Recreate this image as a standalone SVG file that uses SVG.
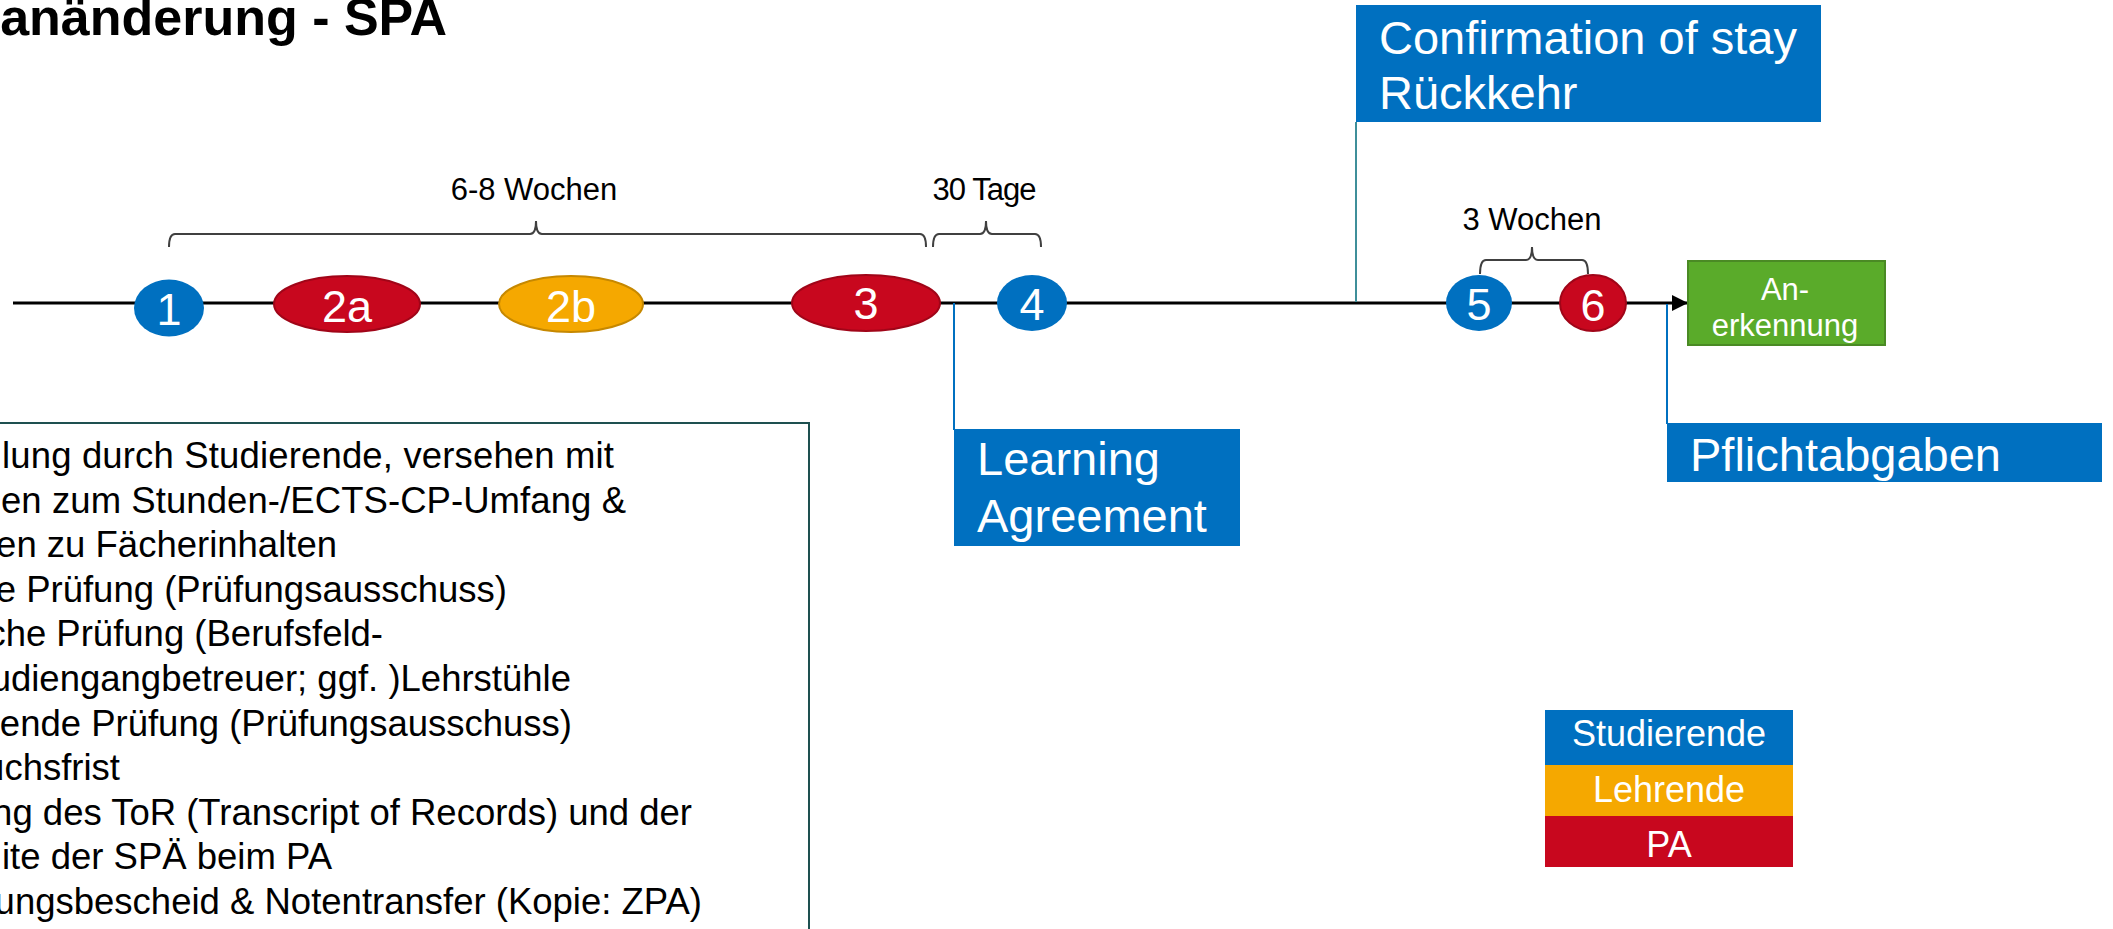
<svg xmlns="http://www.w3.org/2000/svg" width="2113" height="929" viewBox="0 0 2113 929">
<style>
text{font-family:"Liberation Sans",Arial,sans-serif}
.w{fill:#fff}
.num{font-size:45px;fill:#fff;text-anchor:middle}
.lbl{font-size:31px;fill:#000;text-anchor:middle}
.big{font-size:47px;fill:#fff}
.desc{font-size:36.5px;fill:#000;text-anchor:end}
.leg{font-size:36px;fill:#fff;text-anchor:middle}
.brace{fill:none;stroke:#404040;stroke-width:2}
.blue{fill:#0070c0}
.red{fill:#c8071e;stroke:#a00518;stroke-width:2}
.org{fill:#f5a800;stroke:#c68800;stroke-width:2}
.call{stroke:#0070c0;stroke-width:2;fill:none}
</style>
<defs>
<marker id="arr" markerWidth="16" markerHeight="16" refX="16" refY="8" orient="auto" markerUnits="userSpaceOnUse">
<path d="M0,0 L16,8 L0,16 Z" fill="#000"/>
</marker>
</defs>
<rect width="2113" height="929" fill="#fff"/>
<g id="title">
<text x="447" y="35" font-size="52" font-weight="bold" text-anchor="end" fill="#000">anänderung - SPA</text>
</g>
<g id="connectors">
<line x1="13" y1="303" x2="1688" y2="303" stroke="#000" stroke-width="3" marker-end="url(#arr)"/>
<line class="call" x1="954" y1="303" x2="954" y2="430"/>
<line x1="1356" y1="122" x2="1356" y2="302" stroke="#3f8f9a" stroke-width="2"/>
<line class="call" x1="1667" y1="304" x2="1667" y2="424"/>
<path class="brace" d="M169,247 Q169,234 175,234 L530,234 Q536,234 536,221 Q536,234 542,234 L920,234 Q926,234 926,247"/>
<path class="brace" d="M933,247 Q933,234 939,234 L980,234 Q986,234 986,221 Q986,234 992,234 L1035,234 Q1041,234 1041,247"/>
<path class="brace" d="M1480,274 Q1480,260 1486,260 L1526,260 Q1532,260 1532,247 Q1532,260 1538,260 L1582,260 Q1588,260 1588,274"/>
</g>
<g id="labels">
<text class="lbl" x="534" y="200">6-8 Wochen</text>
<text class="lbl" x="984" y="200" letter-spacing="-1">30 Tage</text>
<text class="lbl" x="1532" y="230">3 Wochen</text>
</g>
<g id="n1"><ellipse class="blue" cx="169" cy="308" rx="35" ry="28.5"/><text class="num" x="169" y="325">1</text></g>
<g id="n2a"><ellipse class="red" cx="347" cy="304" rx="73" ry="28"/><text class="num" x="347" y="322">2a</text></g>
<g id="n2b"><ellipse class="org" cx="571" cy="304" rx="72" ry="28"/><text class="num" x="571" y="322">2b</text></g>
<g id="n3"><ellipse class="red" cx="866" cy="303" rx="74" ry="28"/><text class="num" x="866" y="319">3</text></g>
<g id="n4"><ellipse class="blue" cx="1032" cy="303" rx="35" ry="28"/><text class="num" x="1032" y="320">4</text></g>
<g id="n5"><ellipse class="blue" cx="1479" cy="303" rx="33" ry="28"/><text class="num" x="1479" y="320">5</text></g>
<g id="n6"><ellipse class="red" cx="1593" cy="303" rx="33" ry="28"/><text class="num" x="1593" y="321">6</text></g>
<g id="anerkennung">
<rect x="1688" y="261" width="197" height="84" fill="#5aab2a" stroke="#4a8a24" stroke-width="2"/>
<text x="1785" y="300" font-size="31" class="w" text-anchor="middle">An-</text>
<text x="1785" y="336" font-size="31" class="w" text-anchor="middle">erkennung</text>
</g>
<g id="confirmation">
<rect x="1356" y="5" width="465" height="117" class="blue"/>
<text class="big" x="1379" y="54">Confirmation of stay</text>
<text class="big" x="1379" y="109">Rückkehr</text>
</g>
<g id="learning">
<rect x="954" y="429" width="286" height="117" class="blue"/>
<text class="big" x="977" y="475">Learning</text>
<text class="big" x="977" y="532">Agreement</text>
</g>
<g id="pflicht">
<rect x="1667" y="423" width="435" height="59" class="blue"/>
<text class="big" x="1690" y="471">Pflichtabgaben</text>
</g>
<g id="legend">
<rect x="1545" y="710" width="248" height="55" fill="#0070c0"/>
<rect x="1545" y="765" width="248" height="51" fill="#f5a800"/>
<rect x="1545" y="816" width="248" height="51" fill="#c8071e"/>
<text class="leg" x="1669" y="746">Studierende</text>
<text class="leg" x="1669" y="802">Lehrende</text>
<text class="leg" x="1669" y="857">PA</text>
</g>
<g id="description">
<rect x="-10" y="423" width="819" height="520" fill="none" stroke="#1e5050" stroke-width="2"/>
<text class="desc" x="2" y="468" text-anchor="start" style="text-anchor:start" textLength="612">lung durch Studierende, versehen mit</text>
<text class="desc" x="1" y="512.6" style="text-anchor:start" textLength="625">en zum Stunden-/ECTS-CP-Umfang &amp;</text>
<text class="desc" x="337" y="557.2">en zu Fächerinhalten</text>
<text class="desc" x="507" y="601.8">e Prüfung (Prüfungsausschuss)</text>
<text class="desc" x="383" y="646.4">che Prüfung (Berufsfeld-</text>
<text class="desc" x="571" y="691">udiengangbetreuer; ggf. )Lehrstühle</text>
<text class="desc" x="572" y="735.6">ende Prüfung (Prüfungsausschuss)</text>
<text class="desc" x="120" y="780.2">uchsfrist</text>
<text class="desc" x="692" y="824.8">ng des ToR (Transcript of Records) und der</text>
<text class="desc" x="332" y="869.4">ite der SPÄ beim PA</text>
<text class="desc" x="702" y="914">ungsbescheid &amp; Notentransfer (Kopie: ZPA)</text>
</g>
</svg>
